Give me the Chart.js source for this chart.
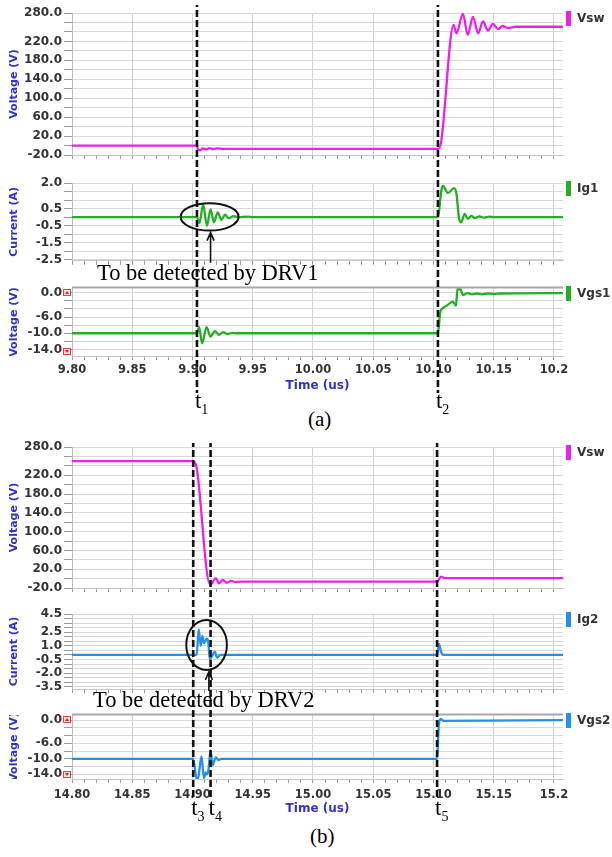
<!DOCTYPE html>
<html>
<head>
<meta charset="utf-8">
<script src="https://cdn.jsdelivr.net/npm/chart.js@4.4.1/dist/chart.umd.min.js"></script>
<style>
  html, body { margin: 0; padding: 0; background: #fff; }
  #page { position: relative; width: 612px; height: 857px; overflow: hidden; }
  #page canvas { position: absolute; left: 0; }
  .note { position: absolute; font-family: "Liberation Serif", "Times New Roman", serif; color: #000; white-space: nowrap; }
  .big { font-size: 22.5px; line-height: 22.5px; }
  .cap { font-size: 21px; line-height: 21px; }
  .tl { font-size: 23px; line-height: 23px; }
  .tl .sub { font-size: 14px; position: relative; top: 6px; }
</style>
</head>
<body>
<div id="page">
  <canvas id="a1" width="612" height="170" style="top:0px"></canvas>
  <canvas id="a2" width="612" height="100" style="top:170px"></canvas>
  <canvas id="a3" width="612" height="125" style="top:270px"></canvas>
  <canvas id="b1" width="612" height="165" style="top:435px"></canvas>
  <canvas id="b2" width="612" height="100" style="top:600px"></canvas>
  <canvas id="b3" width="612" height="118" style="top:700px"></canvas>
  <div class="note big" style="left:97px;top:262px">To be detected by DRV1</div>
  <div class="note cap" style="left:308px;top:409px">(a)</div>
  <div class="note big" style="left:93px;top:689px">To be detected by DRV2</div>
  <div class="note cap" style="left:310px;top:826px">(b)</div>
</div>
<script>
// ---- panel (a): turn-on, time axis 9.80 .. 10.2 us
const xTickValsA = [9.80, 9.85, 9.90, 9.95, 10.00, 10.05, 10.10, 10.15, 10.20];
const xTickTextA = ['9.80', '9.85', '9.90', '9.95', '10.00', '10.05', '10.10', '10.15', '10.2'];
const markTimesA = [9.9037, 10.1037];
const markNamesA = ['1', '2'];

const vswA_t = [9.800, 9.9037, 9.9047, 9.9065, 9.9085, 9.9110, 9.9140, 9.9170, 9.9210, 9.9250,
                10.1046, 10.1066, 10.1167, 10.1190, 10.1245, 10.1284, 10.1328, 10.1370, 10.1411,
                10.1452, 10.1493, 10.1535, 10.1574, 10.1615, 10.1687, 10.2075];
const vswA_v = [0, 0, -9, -10, -6, -8, -5.5, -7.5, -6, -7,
                -7, 12, 255, 237, 278, 234, 272, 237, 262,
                243, 257, 246, 252.5, 248.5, 251, 251];

const ig1_t = [9.800, 9.9037, 9.9058, 9.9088, 9.9120, 9.9150, 9.9178, 9.9210, 9.9240, 9.9270,
               9.9300, 9.9340, 9.9380, 9.9460, 9.9500, 10.1038, 10.1066, 10.1079, 10.1120,
               10.1170, 10.1190, 10.1212, 10.1231, 10.1259, 10.1286, 10.1314, 10.1342, 10.1380,
               10.1420, 10.1460, 10.1500, 10.2075];
const ig1_v = [0, 0, -0.35, 0.75, -0.5, 0.45, -0.3, 0.28, -0.15, 0.15,
               -0.06, 0.06, 0, 0.03, 0, 0, 1.6, 1.83, 1.41,
               1.7, 1.4, -0.05, -0.3, 0.2, -0.1, 0.08, -0.05, 0.05,
               -0.03, 0.03, 0, 0];

const vgs1_t = [9.800, 9.9037, 9.9055, 9.9080, 9.9117, 9.9150, 9.9186, 9.9220, 9.9255, 9.9290,
                9.9330, 9.9366, 10.1037, 10.1055, 10.1070, 10.1110, 10.1160, 10.1187, 10.1199,
                10.1225, 10.1245, 10.1280, 10.1320, 10.1360, 10.1400, 10.1450, 10.1500, 10.1550,
                10.2075];
const vgs1_v = [-10, -10, -8.5, -12.5, -8.5, -10.8, -9.5, -10.4, -9.7, -10.2,
                -9.9, -10, -10, -5.0, -4.0, -3.2, -2.2, -3.2, 0.9,
                0.8, -0.6, -0.1, -0.4, -0.2, -0.4, -0.2, -0.3, -0.2,
                -0.1];

// ---- panel (b): turn-off, time axis 14.80 .. 15.2 us
const xTickValsB = [14.80, 14.85, 14.90, 14.95, 15.00, 15.05, 15.10, 15.15, 15.20];
const xTickTextB = ['14.80', '14.85', '14.90', '14.95', '15.00', '15.05', '15.10', '15.15', '15.2'];
const markTimesB = [14.9006, 14.9150, 15.1030];
const markNamesB = ['3', '4', '5'];

const vswB_t = [14.800, 14.9006, 14.9022, 14.9035, 14.9144, 14.9161, 14.9194, 14.9219, 14.9252,
                14.9285, 14.9318, 14.9360, 14.9400, 15.1030, 15.1065, 15.1095, 15.2075];
const vswB_v = [250, 250, 246, 236, -11, -10, 1, -10, -3,
                -9, -5, -7.5, -6.5, -6.5, 4, 1, 1];

const ig2_t = [14.800, 14.9034, 14.9052, 14.9068, 14.9082, 14.9096, 14.9118, 14.9130, 14.9144,
               14.9160, 14.9184, 14.9205, 14.9230, 15.1030, 15.1046, 15.1062, 15.1080, 15.2075];
const ig2_v = [0, 0, 2.8, 1.0, 2.1, 1.3, 1.8, 1.5, -0.5,
               -0.2, 0.35, -0.3, 0, 0, 1.2, 0.4, 0, 0];

const vgs2_t = [14.800, 14.9006, 14.9035, 14.9050, 14.9075, 14.9095, 14.9110, 14.9120, 14.9132,
                14.9150, 14.9167, 14.9194, 14.9215, 14.9240, 15.1030, 15.1045, 15.1060, 15.1080,
                15.2075];
const vgs2_v = [-10, -10, -15.2, -14.5, -9.4, -15, -13.5, -14, -13,
                -7.8, -11.6, -9.6, -10.3, -10, -10, -1, 0.3, -0.2,
                0];

// ---- labelled y ticks (grid lines are drawn at every step)
const vswTicks = [280, 220, 180, 140, 100, 60, 20, -20];
const ig1Ticks = [2.0, 0.5, -0.5, -1.5, -2.5];
const ig2Ticks = [4.5, 2.5, 1.0, -0.5, -2.0, -3.5];
const vgsTicks = [0, -6, -10, -14];

const cVsw = '#ec1fec';
const cGreen = '#22b022';
const cBlue = '#2590e8';
const cAxisTitle = '#3232c4';
const cGrid = '#d9d9d9';

Chart.defaults.font.family = '"DejaVu Sans", sans-serif';
Chart.defaults.font.size = 12;
Chart.defaults.color = '#222';

const page = document.getElementById('page');

function stepTicks(lo, hi, step) {
  const out = [];
  const n = Math.round((hi - lo) / step);
  for (let i = 0; i <= n; i++) out.push({ value: Math.round((lo + i * step) * 1000) / 1000 });
  return out;
}
const near = (list, v) => list.findIndex(l => Math.abs(l - v) < 1e-6);

// dashed time markers, spanning the whole canvas height
const markLines = {
  id: 'markLines',
  afterDraw(chart, args, o) {
    const { ctx } = chart;
    const x = chart.scales.x;
    ctx.save();
    ctx.strokeStyle = '#111';
    ctx.lineWidth = 2.6;
    ctx.setLineDash([7, 3]);
    ctx.lineDashOffset = o.pageTop + o.from;
    o.times.forEach(t => {
      const px = x.getPixelForValue(t);
      ctx.beginPath();
      ctx.moveTo(px, o.from);
      ctx.lineTo(px, o.to);
      ctx.stroke();
    });
    ctx.restore();
  }
};

// coloured bar + trace name at the right of the plot
const seriesTag = {
  id: 'seriesTag',
  afterDraw(chart, args, o) {
    const { ctx, chartArea: a } = chart;
    ctx.save();
    ctx.fillStyle = o.color;
    ctx.fillRect(a.right + 3, a.top - 2, 5, 15);
    ctx.fillStyle = '#333';
    ctx.font = 'bold 12px "DejaVu Sans"';
    ctx.textBaseline = 'middle';
    ctx.fillText(o.text, a.right + 14, a.top + 6);
    ctx.restore();
  }
};

// rotated y title, clipped to the plot height like the simulator does
const yTitle = {
  id: 'yTitle',
  afterDraw(chart, args, o) {
    const { ctx, chartArea: a } = chart;
    ctx.save();
    ctx.beginPath();
    ctx.rect(0, a.top, a.left, a.bottom - a.top);
    ctx.clip();
    ctx.translate(14, (a.top + a.bottom) / 2);
    ctx.rotate(-Math.PI / 2);
    ctx.font = 'bold 11px "DejaVu Sans"';
    ctx.fillStyle = cAxisTitle;
    ctx.textAlign = 'center';
    ctx.textBaseline = 'middle';
    ctx.fillText(o.text, 0, 0);
    ctx.restore();
  }
};

// top frame and the little red scroll buttons on the gate-voltage plots
const scrollMarks = {
  id: 'scrollMarks',
  afterDraw(chart, args, o) {
    if (!o.show) return;
    const { ctx, chartArea: a } = chart;
    ctx.save();
    ctx.fillStyle = '#a8a8a8';
    ctx.fillRect(a.left, a.top - 1.5, a.right - a.left, 2);
    [[a.top + 1, 1], [a.bottom - 8, -1]].forEach(([y, dir]) => {
      ctx.fillStyle = '#fbe0e0';
      ctx.fillRect(a.left - 9, y, 8, 7);
      ctx.strokeStyle = '#d44';
      ctx.lineWidth = 1;
      ctx.strokeRect(a.left - 8.5, y + 0.5, 7, 6);
      const cx = a.left - 5, cy = y + 3.5;
      ctx.fillStyle = '#d22';
      ctx.beginPath();
      ctx.moveTo(cx - 2, cy + 1.5 * dir);
      ctx.lineTo(cx + 2, cy + 1.5 * dir);
      ctx.lineTo(cx, cy - 1.5 * dir);
      ctx.fill();
    });
    ctx.restore();
  }
};

// ellipse + arrow around the gate-current ringing
const callout = {
  id: 'callout',
  afterDraw(chart, args, o) {
    if (o.cx === undefined) return;
    const { ctx } = chart;
    const x = chart.scales.x, y = chart.scales.y;
    const cx = x.getPixelForValue(o.cx), cy = y.getPixelForValue(o.cy);
    ctx.save();
    ctx.strokeStyle = '#111';
    ctx.lineWidth = 2;
    ctx.beginPath();
    ctx.ellipse(cx, cy, o.rx, o.ry, 0, 0, 2 * Math.PI);
    ctx.stroke();
    const ax = x.getPixelForValue(o.ax);
    const tip = cy + o.ry + 2, tail = chart.chartArea.bottom + 2;
    ctx.lineWidth = 1.6;
    ctx.beginPath();
    ctx.moveTo(ax, tail); ctx.lineTo(ax, tip);
    ctx.moveTo(ax - 3.5, tip + 8); ctx.lineTo(ax, tip); ctx.lineTo(ax + 3.5, tip + 8);
    ctx.stroke();
    ctx.restore();
  }
};

function subplot(id, c) {
  const el = document.getElementById(id);
  const pageTop = parseFloat(el.style.top);
  return new Chart(el, {
    type: 'line',
    data: {
      datasets: [{
        data: c.t.map((t, i) => ({ x: t, y: c.v[i] })),
        borderColor: c.color,
        borderWidth: 2.3,
        pointRadius: 0,
        cubicInterpolationMode: 'monotone',
        fill: false
      }]
    },
    options: {
      responsive: false,
      animation: false,
      events: [],
      layout: { padding: { top: c.padTop, right: 49, left: 0, bottom: 0 } },
      scales: {
        x: {
          type: 'linear',
          min: c.xMin, max: c.xMax,
          afterBuildTicks: s => { s.ticks = stepTicks(c.xMin, c.xTickVals[c.xTickVals.length - 1], 0.01); },
          afterFit: s => { s.height = c.xh; },
          grid: {
            color: g => (g.tick && near(c.xTickVals, g.tick.value) >= 0) ? '#d2d2d2' : 'rgba(0,0,0,0)',
            tickColor: '#999',
            tickLength: 4
          },
          border: { display: true, color: '#c8c8c8' },
          ticks: {
            display: c.showX,
            autoSkip: false, maxRotation: 0, minRotation: 0,
            padding: c.xPad,
            color: '#333',
            font: { weight: 'bold', size: 11.5 },
            callback: v => { const k = near(c.xTickVals, v); return k >= 0 ? c.xTickText[k] : ''; }
          },
          title: {
            display: c.showX,
            text: 'Time (us)',
            color: cAxisTitle,
            font: { weight: 'bold', size: 12 },
            padding: { top: 0, bottom: c.titlePad }
          }
        },
        y: {
          min: c.yMin, max: c.yMax,
          afterBuildTicks: s => { s.ticks = stepTicks(c.gridLo, c.gridHi, c.gridStep); },
          afterFit: s => { s.width = 72; },
          grid: { color: cGrid, tickColor: '#999', tickLength: 8 },
          border: { display: true, color: '#bbb' },
          ticks: {
            autoSkip: false,
            padding: 2,
            color: '#333',
            font: { weight: 'bold', size: 12 },
            callback: v => near(c.yLabels, v) >= 0 ? v.toFixed(1) : ''
          }
        }
      },
      plugins: {
        legend: { display: false },
        tooltip: { enabled: false },
        markLines: { times: c.marks, from: c.dashFrom, to: c.dashTo, pageTop: pageTop },
        seriesTag: { text: c.name, color: c.color },
        yTitle: { text: c.yTitle },
        scrollMarks: { show: !!c.scroll },
        callout: c.callout || {}
      }
    },
    plugins: [yTitle, seriesTag, scrollMarks, callout, markLines]
  });
}

function tLabels(chart, times, names, baseline) {
  times.forEach((t, i) => {
    const d = document.createElement('div');
    d.className = 'note tl';
    d.innerHTML = 't<span class="sub">' + names[i] + '</span>';
    d.style.left = (chart.scales.x.getPixelForValue(t) - 2) + 'px';
    d.style.top = (baseline - 19.3) + 'px';
    page.appendChild(d);
  });
}

const axA = { xMin: 9.80, xMax: 10.2075, xTickVals: xTickValsA, xTickText: xTickTextA, marks: markTimesA };
const axB = { xMin: 14.80, xMax: 15.2075, xTickVals: xTickValsB, xTickText: xTickTextB, marks: markTimesB };

subplot('a1', Object.assign({}, axA, {
  t: vswA_t, v: vswA_v, color: cVsw, name: 'Vsw', yTitle: 'Voltage (V)',
  yMin: -20, yMax: 280, gridLo: -20, gridHi: 280, gridStep: 20, yLabels: vswTicks,
  padTop: 13, xh: 15, showX: false, dashFrom: 5, dashTo: 170
}));
subplot('a2', Object.assign({}, axA, {
  t: ig1_t, v: ig1_v, color: cGreen, name: 'Ig1', yTitle: 'Current (A)',
  yMin: -2.55, yMax: 2.0, gridLo: -2.5, gridHi: 2.0, gridStep: 0.5, yLabels: ig1Ticks,
  padTop: 13, xh: 9, showX: false, dashFrom: 0, dashTo: 100,
  callout: { cx: 9.9142, cy: 0.02, rx: 29, ry: 13.7, ax: 9.9150 }
}));
const chartA3 = subplot('a3', Object.assign({}, axA, {
  t: vgs1_t, v: vgs1_v, color: cGreen, name: 'Vgs1', yTitle: 'Voltage (V)',
  yMin: -15.6, yMax: 1.15, gridLo: -14, gridHi: 0, gridStep: 2, yLabels: vgsTicks,
  padTop: 18, xh: 39, showX: true, xPad: 3, titlePad: 2, dashFrom: 0, dashTo: 123, scroll: true
}));

subplot('b1', Object.assign({}, axB, {
  t: vswB_t, v: vswB_v, color: cVsw, name: 'Vsw', yTitle: 'Voltage (V)',
  yMin: -20, yMax: 280, gridLo: -20, gridHi: 280, gridStep: 20, yLabels: vswTicks,
  padTop: 12, xh: 12, showX: false, dashFrom: 8, dashTo: 165
}));
subplot('b2', Object.assign({}, axB, {
  t: ig2_t, v: ig2_v, color: cBlue, name: 'Ig2', yTitle: 'Current (A)',
  yMin: -3.75, yMax: 4.5, gridLo: -3.5, gridHi: 4.5, gridStep: 0.5, yLabels: ig2Ticks,
  padTop: 14, xh: 11, showX: false, dashFrom: 0, dashTo: 100,
  callout: { cx: 14.9117, cy: 1.1, rx: 20.3, ry: 25, ax: 14.9136 }
}));
const chartB3 = subplot('b3', Object.assign({}, axB, {
  t: vgs2_t, v: vgs2_v, color: cBlue, name: 'Vgs2', yTitle: 'Voltage (V)',
  yMin: -15.2, yMax: 1.3, gridLo: -14, gridHi: 0, gridStep: 2, yLabels: vgsTicks,
  padTop: 15, xh: 39, showX: true, xPad: 5, titlePad: 1.5, dashFrom: 0, dashTo: 100, scroll: true
}));

tLabels(chartA3, markTimesA, markNamesA, 408);
tLabels(chartB3, markTimesB, markNamesB, 815);
</script>
</body>
</html>
